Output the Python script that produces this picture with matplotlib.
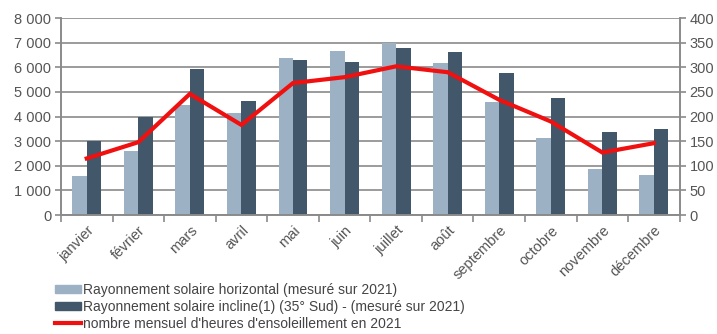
"""
Rayonnement solaire mensuel et heures d'ensoleillement 2021
"""

import numpy as np
from matplotlib import pyplot as plt
from matplotlib.ticker import FuncFormatter, FixedLocator
from matplotlib.lines import Line2D
from matplotlib.patches import Patch


# data
MONTHS = ['janvier', 'février', 'mars', 'avril', 'mai', 'juin',
          'juillet', 'août', 'septembre', 'octobre', 'novembre', 'décembre']
HORIZONTAL = [1600, 2620, 4470, 4140, 6370, 6670, 6980, 6170, 4610, 3150, 1870, 1610]
INCLINE = [2990, 4000, 5940, 4640, 6310, 6220, 6780, 6630, 5760, 4750, 3380, 3500]
SUN_HOURS = [115, 148, 246, 183, 268, 280, 302, 290, 234, 190, 127, 146]

LABEL_H = 'Rayonnement solaire horizontal (mesuré sur 2021)'
LABEL_I = 'Rayonnement solaire incline(1) (35° Sud) - (mesuré sur 2021)'
LABEL_S = "nombre mensuel d'heures d'ensoleillement en 2021"

# style
CLR_LIGHT = '#9cb1c3'
CLR_DARK = '#425769'
CLR_RED = '#f01010'
CLR_GRID = '#8a8a8a'
CLR_TEXT = '#555555'

plt.rcParams['font.family'] = ['Liberation Sans', 'DejaVu Sans']

fig = plt.figure(figsize=(7.17, 3.34), dpi=100)
ax = fig.add_axes([0.085, 0.356, 0.863, 0.590])
ax2 = ax.twinx()

x = np.arange(len(MONTHS))
w = 0.28
ax.bar(x - w / 2, HORIZONTAL, w, color=CLR_LIGHT, zorder=2)
ax.bar(x + w / 2, INCLINE, w, color=CLR_DARK, zorder=2)
ax2.plot(x, SUN_HOURS, color=CLR_RED, lw=3, solid_joinstyle='miter', zorder=3)

ax.set_xlim(-0.5, len(MONTHS) - 0.5)
ax.set_ylim(0, 8000)
ax2.set_ylim(0, 400)
ax.set_yticks(np.arange(0, 8001, 1000))
ax2.set_yticks(np.arange(0, 401, 50))
ax.yaxis.set_major_formatter(FuncFormatter(lambda v, p: '{:,.0f}'.format(v).replace(',', ' ')))

ax.grid(axis='y', color=CLR_GRID, lw=1.2, zorder=0)
ax.set_axisbelow(True)

# x ticks: labels at centers, tick marks at boundaries
ax.set_xticks(x)
ax.set_xticklabels(MONTHS, rotation=45, ha='right', rotation_mode='anchor')
ax.tick_params(axis='x', length=0, pad=6)
ax.xaxis.set_minor_locator(FixedLocator(np.arange(-0.5, len(MONTHS), 1.0)))
ax.tick_params(axis='x', which='minor', length=5, color=CLR_GRID, width=1.2)

for a in (ax, ax2):
    for side in ('top', 'left', 'right', 'bottom'):
        a.spines[side].set_color(CLR_GRID)
        a.spines[side].set_linewidth(1.2)
    a.spines['top'].set_visible(False)
    a.tick_params(axis='y', length=4, color=CLR_GRID, width=1.2,
                  labelsize=10.5, labelcolor=CLR_TEXT, pad=3)
ax.tick_params(axis='x', labelsize=10.5, labelcolor=CLR_TEXT)

handles = [Patch(color=CLR_LIGHT), Patch(color=CLR_DARK),
           Line2D([], [], color=CLR_RED, lw=3)]
fig.legend(handles, [LABEL_H, LABEL_I, LABEL_S], loc='lower left',
           bbox_to_anchor=(0.063, -0.02), frameon=False, fontsize=10,
           labelcolor='#444444', handlelength=1.9, handleheight=0.6,
           handletextpad=0.1, labelspacing=0.22, borderpad=0.2)

plt.savefig('out.png', dpi=100)
